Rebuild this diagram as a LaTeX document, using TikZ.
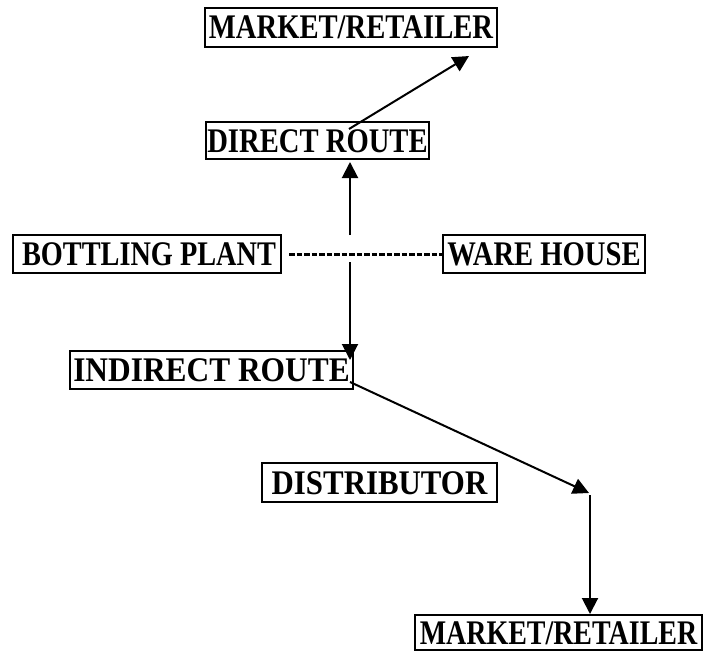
\documentclass[tikz,border=0pt]{standalone}
\usepackage{fontspec}
\usepackage{graphicx}
\setmainfont{Liberation Serif}
\usetikzlibrary{arrows.meta}
\newcommand\sqz[2]{\scalebox{#1}[1]{#2}}
\tikzset{
  boxnode/.style={draw, line width=2pt, inner sep=0pt, text height=23pt, text depth=0pt,
    font=\fontsize{34.5}{34.5}\selectfont\bfseries},
  arr/.style={line width=2pt, -{Triangle[length=16pt,width=16pt]}},
}
\begin{document}
\begin{tikzpicture}[x=1pt,y=-1pt]
\useasboundingbox (0,0) rectangle (703,650);
% boxes
\node[boxnode, minimum width=292pt, minimum height=39pt] (mtop) at (351,27.5) {\sqz{0.83}{MARKET/RETAILER}};
\node[boxnode, minimum width=223pt, minimum height=37pt] (direct) at (317.5,140.5) {\sqz{0.83}{DIRECT ROUTE}};
\node[boxnode, minimum width=268pt, minimum height=38pt] (bottling) at (147,254) {\hspace{4pt}\sqz{0.82}{BOTTLING PLANT}};
\node[boxnode, minimum width=202pt, minimum height=38pt] (ware) at (544,254) {\sqz{0.83}{WARE HOUSE}};
\node[boxnode, minimum width=283pt, minimum height=38pt] (indirect) at (211.5,370) {\sqz{0.91}{INDIRECT ROUTE}};
\node[boxnode, minimum width=235pt, minimum height=39pt] (distributor) at (379.5,482.5) {\sqz{0.895}{DISTRIBUTOR}};
\node[boxnode, minimum width=287pt, minimum height=35pt, anchor=north west] (mbottom) at (414,614) {\sqz{0.81}{MARKET/RETAILER}};
% connector points
\coordinate (d1) at (349,129);
\coordinate (mt) at (469,56);
\coordinate (up0) at (350,235);
\coordinate (up1) at (350,162);
\coordinate (dn0) at (350,262);
\coordinate (dn1) at (350,360);
\coordinate (i1) at (350,382);
\coordinate (k) at (589,493);
\coordinate (kb) at (590,495);
% connectors
\draw[arr] (d1) -- (mt);
\draw[arr] (up0) -- (up1);
\draw[line width=3pt, dash pattern=on 5.5pt off 2pt, shorten <=7pt] (bottling.east) -- (ware.west);
\draw[arr] (dn0) -- (dn1);
\draw[arr] (i1) -- (k);
\draw[arr] (kb) -- (kb |- mbottom.north);
\end{tikzpicture}
\end{document}
